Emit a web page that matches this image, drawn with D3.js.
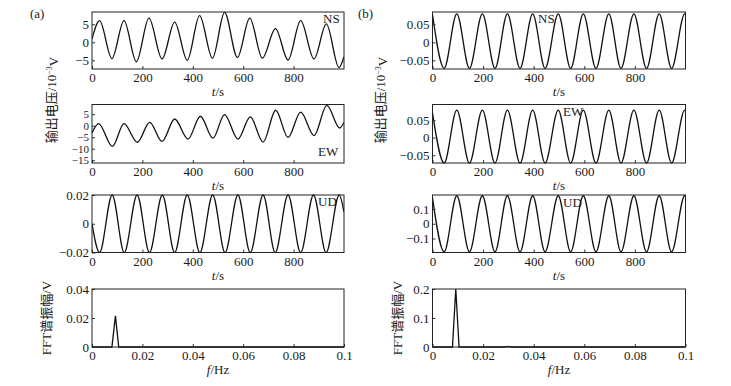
<!DOCTYPE html>
<html>
<head>
<meta charset="utf-8">
<script src="https://cdn.jsdelivr.net/npm/d3@7"></script>
<style>
  body { margin: 0; background: #fff; }
  text { font-family: "Liberation Serif", "Times New Roman", "Noto Sans CJK SC", serif; fill: #1a1a1a; }
</style>
</head>
<body>
<div id="chart"></div>
<script>
// shared ticks
const tTicks = [0, 200, 400, 600, 800];
const fTicks = [0, 0.02, 0.04, 0.06, 0.08, 0.1];

// (a) time series, [t (s), value] read at the extrema
const nsA = [[0, 0.9], [30, 6.0], [79, -4.5], [127, 6.0], [176, -5.4], [226, 6.7], [278, -4.6], [328, 5.6],
  [378, -5.0], [427, 7.4], [478, -4.4], [526, 8.3], [577, -4.2], [626, 6.7], [676, -4.4], [728, 3.8],
  [778, -4.9], [828, 6.0], [881, -4.6], [930, 5.1], [980, -7.0], [1000, -4.0]];
const ewA = [[0, -3.2], [26, 0.9], [81, -9.0], [127, 0.9], [180, -7.2], [229, 1.4], [278, -6.8], [328, 2.9],
  [381, -5.8], [430, 4.1], [480, -5.4], [526, 4.8], [579, -5.8], [628, 3.8], [679, -7.1], [729, 6.7],
  [778, -5.1], [828, 5.9], [881, -4.3], [932, 8.8], [983, -1.0], [1000, 1.4]];
const udA = [[0, 0], [30, -0.02], [80, 0.02], [128, -0.02], [179, 0.02], [228, -0.02], [279, 0.02], [328, -0.02],
  [378, 0.02], [428, -0.02], [479, 0.02], [528, -0.02], [579, 0.02], [628, -0.02], [679, 0.02], [727, -0.02],
  [778, 0.02], [828, -0.02], [879, 0.02], [929, -0.02], [981, 0.02], [1000, 0.008]];
const fftA = [[0, 0], [0.0079, 0], [0.0093, 0.0215], [0.0106, 0], [0.1, 0]];

// (b) time series
const nsB = [[0, 0.077], [46, -0.072], [96, 0.079], [146, -0.072], [197, 0.079], [247, -0.072], [296, 0.079],
  [346, -0.072], [396, 0.079], [445, -0.072], [497, 0.079], [546, -0.072], [596, 0.079], [646, -0.072],
  [697, 0.079], [745, -0.072], [796, 0.079], [846, -0.072], [896, 0.079], [945, -0.072], [997, 0.079], [1000, 0.078]];
const ewB = [[0, 0.070], [46, -0.072], [96, 0.078], [146, -0.072], [197, 0.078], [247, -0.072], [296, 0.078],
  [346, -0.072], [396, 0.078], [445, -0.072], [497, 0.078], [546, -0.072], [596, 0.078], [646, -0.072],
  [697, 0.078], [745, -0.072], [796, 0.078], [846, -0.072], [896, 0.078], [945, -0.072], [997, 0.078], [1000, 0.077]];
const udB = [[0, 0.175], [46, -0.19], [96, 0.19], [146, -0.19], [197, 0.19], [247, -0.19], [296, 0.19],
  [346, -0.19], [396, 0.19], [445, -0.19], [497, 0.19], [546, -0.19], [596, 0.19], [646, -0.19],
  [697, 0.19], [745, -0.19], [796, 0.19], [846, -0.19], [896, 0.19], [945, -0.19], [997, 0.19], [1000, 0.188]];
const fftB = [[0, 0], [0.0079, 0], [0.0092, 0.2], [0.0105, 0], [0.029, 0], [0.0298, 0.002], [0.031, 0], [0.1, 0]];

// y ticks
const yTicksNsA = [-5, 0, 5];
const yTicksEwA = [-15, -10, -5, 0, 5];
const yTicksUdA = [-0.02, 0, 0.02];
const yTicksFftA = [0, 0.02, 0.04];
const yTicksB = [-0.05, 0, 0.05];
const yTicksUdB = [-0.1, 0, 0.1];
const yTicksFftB = [0, 0.1, 0.2];

const width = 731, height = 386;
const rows = [[12, 69], [104.5, 163], [195, 252.5], [289, 347]];
const cols = [[92, 344], [432.5, 685.5]];

const svg = d3.select("#chart").append("svg")
  .attr("width", width).attr("height", height);

const fmt = d => (d < 0 ? "\u2212" : "") + Math.abs(d);

const panels = [
  {col: 0, row: 0, data: nsA, yDom: [-7.4, 8.4], yTicks: yTicksNsA, tag: "NS", tagX: 323, tagY: 23},
  {col: 0, row: 1, data: ewA, yDom: [-16.2, 9.2], yTicks: yTicksEwA, tag: "EW", tagX: 318, tagY: 156, yFont: 11},
  {col: 0, row: 2, data: udA, yDom: [-0.02, 0.02], yTicks: yTicksUdA, tag: "UD", tagX: 318, tagY: 206},
  {col: 0, row: 3, data: fftA, yDom: [0, 0.04], yTicks: yTicksFftA, fft: true},
  {col: 1, row: 0, data: nsB, yDom: [-0.074, 0.084], yTicks: yTicksB, tag: "NS", tagX: 538, tagY: 23},
  {col: 1, row: 1, data: ewB, yDom: [-0.072, 0.094], yTicks: yTicksB, tag: "EW", tagX: 563, tagY: 116},
  {col: 1, row: 2, data: udB, yDom: [-0.195, 0.195], yTicks: yTicksUdB, tag: "UD", tagX: 563, tagY: 207},
  {col: 1, row: 3, data: fftB, yDom: [0, 0.2], yTicks: yTicksFftB, fft: true}
];

panels.forEach((p, i) => {
  const [x0, x1] = cols[p.col];
  const [y0, y1] = rows[p.row];
  const x = d3.scaleLinear().domain(p.fft ? [0, 0.1] : [0, 1000]).range([x0, x1]);
  const y = d3.scaleLinear().domain(p.yDom).range([y1, y0]);

  const clipId = "clip" + i;
  svg.append("clipPath").attr("id", clipId)
    .append("rect").attr("x", x0).attr("y", y0 - 1).attr("width", x1 - x0).attr("height", y1 - y0 + 2);

  const line = d3.line()
    .x(d => x(d[0])).y(d => y(d[1]))
    .curve(p.fft ? d3.curveLinear : d3.curveMonotoneX);

  svg.append("path")
    .datum(p.data)
    .attr("clip-path", `url(#${clipId})`)
    .attr("fill", "none")
    .attr("stroke", "#111")
    .attr("stroke-width", 1.3)
    .attr("d", line);

  // axes, ticks pointing inward
  const xAxis = svg.append("g")
    .attr("transform", `translate(0,${y1})`)
    .call(d3.axisBottom(x)
      .tickValues(p.fft ? fTicks : tTicks)
      .tickFormat(fmt)
      .tickSizeInner(-3).tickSizeOuter(0).tickPadding(4));
  const yAxis = svg.append("g")
    .attr("transform", `translate(${x0},0)`)
    .call(d3.axisLeft(y)
      .tickValues(p.yTicks)
      .tickFormat(fmt)
      .tickSizeInner(-3).tickSizeOuter(0).tickPadding(3));
  [xAxis, yAxis].forEach(a => {
    a.select(".domain").remove();
    a.selectAll("line").attr("stroke", "#333");
    a.selectAll("text").style("font-size", "13px").attr("fill", "#1a1a1a");
  });
  if (p.yFont) yAxis.selectAll("text").style("font-size", p.yFont + "px");

  svg.append("rect")
    .attr("x", x0).attr("y", y0)
    .attr("width", x1 - x0).attr("height", y1 - y0)
    .attr("fill", "none").attr("stroke", "#222").attr("stroke-width", 1);

  // x label
  const xl = svg.append("text")
    .attr("x", (x0 + x1) / 2).attr("y", y1 + 27)
    .attr("text-anchor", "middle").style("font-size", "13px");
  xl.append("tspan").style("font-style", "italic").text(p.fft ? "f" : "t");
  xl.append("tspan").text(p.fft ? "/Hz" : "/s");

  if (p.tag) {
    svg.append("text")
      .attr("x", p.tagX).attr("y", p.tagY)
      .style("font-size", "13px")
      .text(p.tag);
  }
});

// panel letters
svg.append("text").attr("x", 30).attr("y", 18).style("font-size", "13px").text("(a)");
svg.append("text").attr("x", 358).attr("y", 18).style("font-size", "13px").text("(b)");

// y labels
[[51, 100], [380, 100]].forEach(([cx, cy]) => {
  const t = svg.append("text")
    .attr("transform", `translate(${cx},${cy}) rotate(-90)`)
    .attr("text-anchor", "middle")
    .attr("dy", "0.35em")
    .style("font-size", "13px");
  t.append("tspan").text("输出电压/10");
  t.append("tspan").attr("dy", "-0.45em").style("font-size", "8px").text("\u22123");
  t.append("tspan").attr("dy", "0.45em").text("V");
});
[[46, 318], [397, 318]].forEach(([cx, cy]) => {
  svg.append("text")
    .attr("transform", `translate(${cx},${cy}) rotate(-90)`)
    .attr("text-anchor", "middle")
    .attr("dy", "0.35em")
    .style("font-size", "13px")
    .text("FFT谱振幅/V");
});
</script>
</body>
</html>
